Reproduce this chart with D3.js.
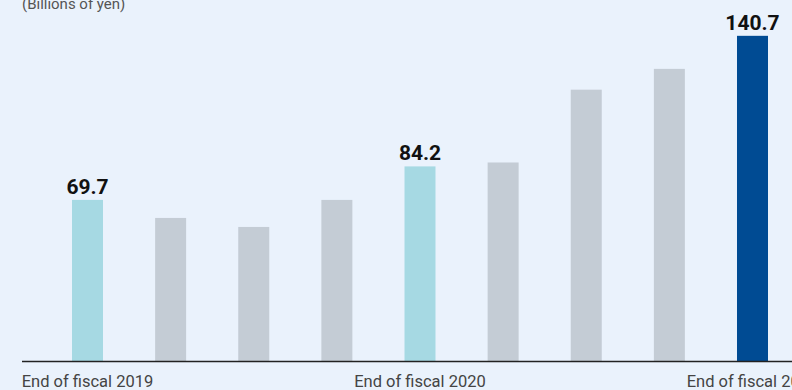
<!DOCTYPE html>
<html>
<head>
<meta charset="utf-8">
<script src="https://cdn.jsdelivr.net/npm/d3@7/dist/d3.min.js"></script>
<style>
  html, body { margin: 0; padding: 0; background: #EAF2FC; }
  svg { display: block; font-family: Roboto, "Open Sans", sans-serif; }
</style>
</head>
<body>
<svg id="chart" width="792" height="390"></svg>
<script>
const categories = ["FY2019 end", "FY2020 Q1", "FY2020 Q2", "FY2020 Q3", "FY2020 end", "FY2021 Q1", "FY2021 Q2", "FY2021 Q3", "FY2021 end"];
const values = [69.7, 61.9, 58.0, 69.7, 84.2, 85.9, 117.4, 126.4, 140.7];
const tickLabels = ["End of fiscal 2019", "", "", "", "End of fiscal 2020", "", "", "", "End of fiscal 2021"];
const valueLabels = ["69.7", "", "", "", "84.2", "", "", "", "140.7"];
const barKinds = ["fy", "q", "q", "q", "fy", "q", "q", "q", "latest"];
const unitLabel = "(Billions of yen)";

const colors = { fy: "#A6D9E3", q: "#C4CCD5", latest: "#004B93" };

const svg = d3.select("#chart");
const W = 792, H = 390;
svg.append("rect").attr("width", W).attr("height", H).attr("fill", "#EAF2FC");

const x = d3.scaleBand().domain(categories).range([72, 768]).paddingInner(0.627).paddingOuter(0);
const y = d3.scaleLinear().domain([0, 156.2]).range([361, 0]);

svg.append("text")
  .attr("x", 22).attr("y", 9)
  .attr("font-size", 15).attr("fill", "#555")
  .text(unitLabel);

svg.selectAll("rect.bar").data(values).join("rect")
  .attr("class", "bar")
  .attr("x", (d, i) => x(categories[i]))
  .attr("width", x.bandwidth())
  .attr("y", d => y(d))
  .attr("height", d => y(0) - y(d))
  .attr("fill", (d, i) => colors[barKinds[i]]);

svg.selectAll("text.val").data(values).join("text")
  .attr("class", "val")
  .attr("x", (d, i) => x(categories[i]) + x.bandwidth() / 2)
  .attr("y", d => y(d) - 6)
  .attr("text-anchor", "middle")
  .attr("font-size", 21).attr("font-weight", "bold").attr("fill", "#111")
  .text((d, i) => valueLabels[i]);

svg.append("line")
  .attr("x1", 22).attr("x2", W)
  .attr("y1", y(0) + 0.5).attr("y2", y(0) + 0.5)
  .attr("stroke", "#222").attr("stroke-width", 1.3);

svg.selectAll("text.tick").data(categories).join("text")
  .attr("class", "tick")
  .attr("x", d => x(d) + x.bandwidth() / 2)
  .attr("y", 387)
  .attr("text-anchor", "middle")
  .attr("font-size", 16.5).attr("fill", "#444")
  .text((d, i) => tickLabels[i]);
</script>
</body>
</html>
